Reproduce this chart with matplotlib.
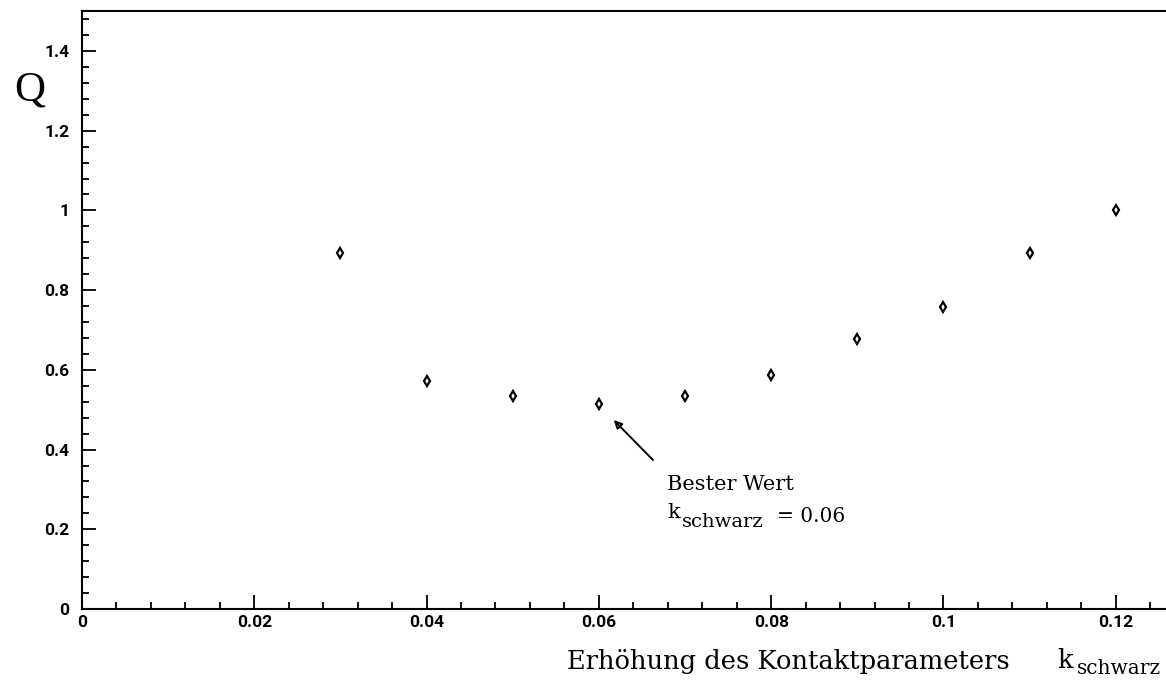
import matplotlib.pyplot as plt
from matplotlib.ticker import MultipleLocator

# data
k_schwarz = [0.03, 0.04, 0.05, 0.06, 0.07, 0.08, 0.09, 0.10, 0.11, 0.12]
Q = [0.893, 0.572, 0.534, 0.514, 0.534, 0.587, 0.677, 0.758, 0.893, 1.0]
best_k = 0.06
best_Q = 0.514

W, H = 1166, 681
fig = plt.figure(figsize=(W / 100, H / 100), dpi=100)
# axes run past the right edge, like the cropped scan
ax = fig.add_axes([0.0703, 0.1057, 0.9605, 0.878])

ax.plot(k_schwarz, Q, linestyle='none', marker='d', markersize=5.5,
        markerfacecolor='white', markeredgecolor='black', markeredgewidth=1.6)

ax.set_xlim(0, 0.13)
ax.set_ylim(0, 1.5)

ax.xaxis.set_minor_locator(MultipleLocator(0.004))
ax.yaxis.set_minor_locator(MultipleLocator(0.04))
ax.set_xticks([0, 0.02, 0.04, 0.06, 0.08, 0.1, 0.12])
ax.set_xticklabels(['0', '0.02', '0.04', '0.06', '0.08', '0.1', '0.12'])
ax.set_yticks([0, 0.2, 0.4, 0.6, 0.8, 1, 1.2, 1.4])
ax.set_yticklabels(['0', '0.2', '0.4', '0.6', '0.8', '1', '1.2', '1.4'])

ax.tick_params(which='both', direction='in', top=False, right=False, width=1.3)
ax.tick_params(which='major', length=10)
ax.tick_params(which='minor', length=5)
ax.tick_params(axis='y', pad=9)
ax.tick_params(axis='x', pad=4)
for lab in ax.get_xticklabels() + ax.get_yticklabels():
    lab.set_fontfamily('Roboto')
    lab.set_fontweight('bold')
    lab.set_fontsize(12.5)

for s in ['left', 'bottom', 'top']:
    ax.spines[s].set_linewidth(1.5)
ax.spines['right'].set_visible(False)

# annotation for the best value
ax.annotate('', xy=(best_k + 0.0015, best_Q - 0.035), xytext=(0.0665, 0.369),
            arrowprops=dict(arrowstyle='-|>', color='black', lw=1.4,
                            mutation_scale=12, fill=False))

serif = 'DejaVu Serif'


def px(x, y):
    return x / W, 1 - y / H


fig.text(*px(667, 484), 'Bester Wert', fontfamily=serif, fontsize=15,
         ha='left', va='center')
fig.text(*px(667, 513), 'k', fontfamily=serif, fontsize=15, ha='left', va='center')
fig.text(*px(682, 522), 'schwarz', fontfamily=serif, fontsize=14, ha='left', va='center')
fig.text(*px(777, 516), '= 0.06', fontfamily=serif, fontsize=14.5, ha='left', va='center')

fig.text(*px(30, 90), 'Q', fontfamily='Liberation Serif', fontsize=31,
         ha='center', va='center')
fig.text(*px(567, 662), 'Erhöhung des Kontaktparameters', fontfamily=serif,
         fontsize=18.5, ha='left', va='center')
fig.text(*px(1057, 660), 'k', fontfamily=serif, fontsize=18.5, ha='left', va='center')
fig.text(*px(1077, 669), 'schwarz', fontfamily=serif, fontsize=14.5, ha='left', va='center')

fig.savefig('out.png', dpi=100)
